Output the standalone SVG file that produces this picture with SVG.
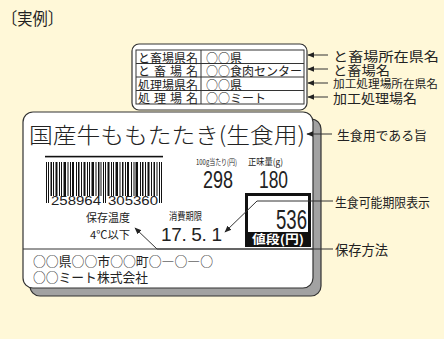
<svg xmlns="http://www.w3.org/2000/svg" width="444" height="339" viewBox="0 0 444 339">
<defs>
<marker id="ah" viewBox="0 0 10 10" refX="9" refY="5" markerWidth="7" markerHeight="7" orient="auto" markerUnits="userSpaceOnUse">
<path d="M0,1 L10,5 L0,9 Z" fill="#222"/>
</marker>
<style>
text{font-family:"Noto Sans CJK JP","Noto Sans",sans-serif;fill:#222}
.lbl{font-size:13px;dominant-baseline:central}
.tb{font-size:12px;dominant-baseline:central}
.num{font-family:"Liberation Sans",Arial,sans-serif}
.conn{fill:none;stroke:#333;stroke-width:1;marker-end:url(#ah)}
.bar{fill:#111}
</style>
</defs>
<rect x="0" y="0" width="444" height="339" fill="#fff8d8"/>
<text x="2" y="25" font-size="17" textLength="61" lengthAdjust="spacingAndGlyphs">〔実例〕</text>

<g id="sub-label">
<rect x="132" y="44" width="175" height="66" rx="7" fill="#fff" stroke="#333" stroke-width="1.2"/>
<rect x="136" y="50" width="168" height="54" fill="none" stroke="#333" stroke-width="1"/>
<path d="M136,63.5H304M136,77H304M136,90.5H304M201,50V104" stroke="#333" stroke-width="1" fill="none"/>
<text class="tb" x="138" y="57" textLength="60" lengthAdjust="spacingAndGlyphs">と畜場県名</text>
<text class="tb" x="138" y="70.5" textLength="60" lengthAdjust="spacing">と 畜 場 名</text>
<text class="tb" x="138" y="84" textLength="60" lengthAdjust="spacingAndGlyphs">処理場県名</text>
<text class="tb" x="138" y="97.5" textLength="60" lengthAdjust="spacing">処 理 場 名</text>
<text class="tb" x="206" y="57">○○県</text>
<text class="tb" x="206" y="70.5">○○食肉センター</text>
<text class="tb" x="206" y="84">○○県</text>
<text class="tb" x="206" y="97.5">○○ミート</text>
</g>

<g id="main-label">
<rect x="30" y="119" width="291" height="177" rx="10" fill="#a2a2a2" stroke="#333" stroke-width="1.2"/>
<rect x="23" y="112" width="290" height="176" rx="10" fill="#fff" stroke="#333" stroke-width="1.2"/>
<text x="29" y="143" font-size="22" font-weight="300" textLength="276" lengthAdjust="spacingAndGlyphs">国産牛ももたたき(生食用)</text>
<g id="barcode">
<rect x="45" y="155.8" width="118" height="1.6" class="bar"/>
<rect class="bar" x="46" y="162" width="1" height="41"/>
<rect class="bar" x="48" y="162" width="1" height="41"/>
<rect class="bar" x="50.5" y="162" width="1.5" height="34"/>
<rect class="bar" x="53" y="162" width="1" height="34"/>
<rect class="bar" x="55.5" y="162" width="2" height="34"/>
<rect class="bar" x="59" y="162" width="1" height="34"/>
<rect class="bar" x="61" y="162" width="1" height="34"/>
<rect class="bar" x="63.5" y="162" width="2.5" height="34"/>
<rect class="bar" x="67.5" y="162" width="1" height="34"/>
<rect class="bar" x="70" y="162" width="1" height="34"/>
<rect class="bar" x="72" y="162" width="2" height="34"/>
<rect class="bar" x="76" y="162" width="1" height="34"/>
<rect class="bar" x="78" y="162" width="1.5" height="34"/>
<rect class="bar" x="81" y="162" width="1" height="34"/>
<rect class="bar" x="83.5" y="162" width="2" height="34"/>
<rect class="bar" x="87" y="162" width="1" height="34"/>
<rect class="bar" x="89" y="162" width="1" height="34"/>
<rect class="bar" x="91.5" y="162" width="2.5" height="34"/>
<rect class="bar" x="95.5" y="162" width="1" height="34"/>
<rect class="bar" x="98" y="162" width="1.5" height="34"/>
<rect class="bar" x="100.5" y="162" width="1" height="34"/>
<rect class="bar" x="103" y="162" width="1" height="41"/>
<rect class="bar" x="105" y="162" width="1" height="41"/>
<rect class="bar" x="107.5" y="162" width="2" height="34"/>
<rect class="bar" x="111" y="162" width="1" height="34"/>
<rect class="bar" x="113" y="162" width="1" height="34"/>
<rect class="bar" x="115.5" y="162" width="2.5" height="34"/>
<rect class="bar" x="119.5" y="162" width="1" height="34"/>
<rect class="bar" x="122" y="162" width="1.5" height="34"/>
<rect class="bar" x="125" y="162" width="1" height="34"/>
<rect class="bar" x="127" y="162" width="2" height="34"/>
<rect class="bar" x="131" y="162" width="1" height="34"/>
<rect class="bar" x="133.5" y="162" width="1" height="34"/>
<rect class="bar" x="135.5" y="162" width="2.5" height="34"/>
<rect class="bar" x="140" y="162" width="1" height="34"/>
<rect class="bar" x="142" y="162" width="1.5" height="34"/>
<rect class="bar" x="145" y="162" width="1" height="34"/>
<rect class="bar" x="147.5" y="162" width="2" height="34"/>
<rect class="bar" x="151" y="162" width="1" height="34"/>
<rect class="bar" x="153.5" y="162" width="1.5" height="34"/>
<rect class="bar" x="156.5" y="162" width="1" height="34"/>
<rect class="bar" x="159" y="162" width="1" height="41"/>
<rect class="bar" x="161" y="162" width="1" height="41"/>
<text class="num" x="51" y="205" font-size="12.5" textLength="50" lengthAdjust="spacingAndGlyphs">258964</text>
<text class="num" x="108" y="205" font-size="12.5" textLength="50" lengthAdjust="spacingAndGlyphs">305360</text>
</g>
<text x="196" y="165" font-size="8" textLength="41" lengthAdjust="spacingAndGlyphs">100g当たり(円)</text>
<text x="248" y="165" font-size="9" textLength="35" lengthAdjust="spacingAndGlyphs">正味量(g)</text>
<text class="num" x="203" y="188" font-size="23" textLength="30" lengthAdjust="spacingAndGlyphs">298</text>
<text class="num" x="259" y="188" font-size="23" textLength="29" lengthAdjust="spacingAndGlyphs">180</text>
<text x="86" y="222" font-size="11" textLength="44" lengthAdjust="spacingAndGlyphs">保存温度</text>
<text x="90" y="239" font-size="11" textLength="40" lengthAdjust="spacingAndGlyphs">4℃以下</text>
<text x="169" y="220" font-size="10.5" textLength="33" lengthAdjust="spacingAndGlyphs">消費期限</text>
<text class="num" x="161" y="241" font-size="19" textLength="61" lengthAdjust="spacing">17. 5. 1</text>
<g id="price-box">
<rect x="246.5" y="194.5" width="63" height="51" fill="#fff" stroke="#111" stroke-width="3"/>
<rect x="246.5" y="232" width="63" height="13.5" fill="#111"/>
<text class="num" x="276" y="229" font-size="28" textLength="31" lengthAdjust="spacingAndGlyphs">536</text>
<text x="252" y="243.5" font-size="12" font-weight="700" style="fill:#fff" textLength="52" lengthAdjust="spacingAndGlyphs">値段(円)</text>
</g>
<path d="M23,249H313" stroke="#333" stroke-width="1" fill="none"/>
<text x="33" y="266" font-size="13" textLength="180" lengthAdjust="spacingAndGlyphs">○○県○○市○○町○―○―○</text>
<text x="33" y="282" font-size="13" textLength="115" lengthAdjust="spacingAndGlyphs">○○ミート株式会社</text>
</g>

<g id="connectors">
<path class="conn" d="M328,55H308"/>
<path class="conn" d="M328,69H308"/>
<path class="conn" d="M328,83H308"/>
<path class="conn" d="M328,97H308"/>
<path class="conn" d="M332,134H307"/>
<path class="conn" d="M333,201H257L225,232"/>
<path class="conn" d="M333,249H157L135,228"/>
</g>

<g id="callouts">
<text class="lbl" x="333" y="55" textLength="106" lengthAdjust="spacingAndGlyphs">と畜場所在県名</text>
<text class="lbl" x="333" y="69" textLength="57" lengthAdjust="spacingAndGlyphs">と畜場名</text>
<text class="lbl" x="333" y="83" style="font-size:11.5px" textLength="105" lengthAdjust="spacingAndGlyphs">加工処理場所在県名</text>
<text class="lbl" x="333" y="97" textLength="84" lengthAdjust="spacingAndGlyphs">加工処理場名</text>
<text class="lbl" x="337" y="134" textLength="90" lengthAdjust="spacingAndGlyphs">生食用である旨</text>
<text class="lbl" x="335" y="201" textLength="95" lengthAdjust="spacingAndGlyphs">生食可能期限表示</text>
<text class="lbl" x="335" y="249" style="font-size:14px" textLength="53" lengthAdjust="spacingAndGlyphs">保存方法</text>
</g>
</svg>
